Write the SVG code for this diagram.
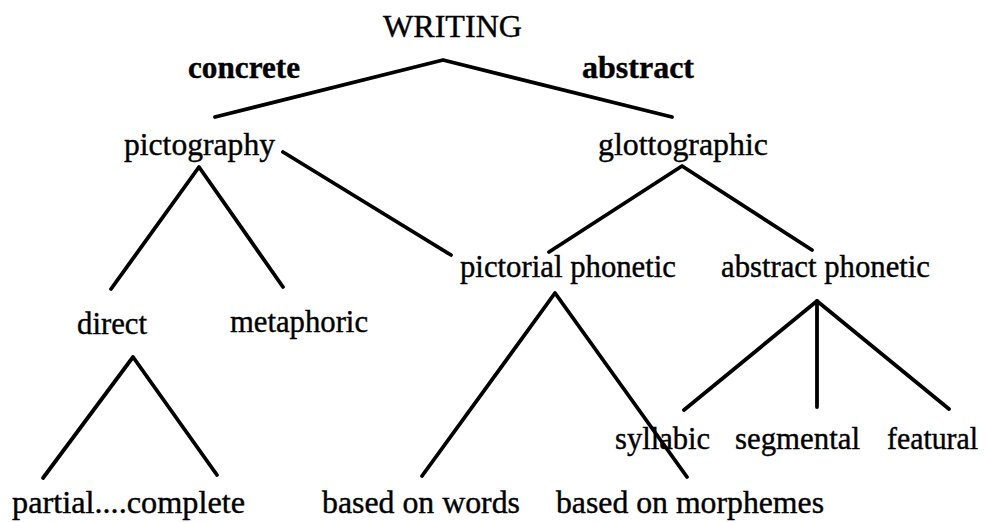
<svg xmlns="http://www.w3.org/2000/svg" width="985" height="522" viewBox="0 0 985 522">
  <style>
    .lbl { font-family: "Liberation Serif", "Times New Roman", serif; font-size: 32px; fill: #000; stroke: #000; stroke-width: 0.4; }
    .bold { font-weight: bold; }
    .edge { stroke: #000; stroke-width: 3.8; stroke-linecap: round; stroke-linejoin: round; fill: none; }
  </style>
  <rect width="985" height="522" fill="#fff"/>

  <!-- tree branches -->
  <g id="connectors">
    <polyline class="edge" points="215,117 443,60 672,117"/>
    <polyline class="edge" points="111,289 199,167 283,287"/>
    <line class="edge" x1="283" y1="152" x2="451" y2="255"/>
    <polyline class="edge" points="549,252 682,166 812,250"/>
    <polyline class="edge" points="43,478 133,357 217,475"/>
    <polyline class="edge" points="422,476 555,293 687,477"/>
    <polyline class="edge" points="684,410 817,301 949,409"/>
    <line class="edge" x1="817" y1="301" x2="817" y2="407"/>
  </g>

  <!-- nodes -->
  <g id="writing"><text class="lbl" x="383" y="37" textLength="139" lengthAdjust="spacingAndGlyphs">WRITING</text></g>
  <g id="concrete"><text class="lbl bold" x="188" y="78" textLength="112" lengthAdjust="spacingAndGlyphs">concrete</text></g>
  <g id="abstract"><text class="lbl bold" x="582" y="78" textLength="112" lengthAdjust="spacingAndGlyphs">abstract</text></g>
  <g id="pictography"><text class="lbl" x="124" y="155" textLength="151" lengthAdjust="spacingAndGlyphs">pictography</text></g>
  <g id="glottographic"><text class="lbl" x="598" y="155" textLength="170" lengthAdjust="spacingAndGlyphs">glottographic</text></g>
  <g id="pictorial-phonetic"><text class="lbl" x="460" y="277" textLength="216" lengthAdjust="spacingAndGlyphs">pictorial phonetic</text></g>
  <g id="abstract-phonetic"><text class="lbl" x="721" y="277" textLength="209" lengthAdjust="spacingAndGlyphs">abstract phonetic</text></g>
  <g id="direct"><text class="lbl" x="77" y="334" textLength="70" lengthAdjust="spacingAndGlyphs">direct</text></g>
  <g id="metaphoric"><text class="lbl" x="230" y="332" textLength="138" lengthAdjust="spacingAndGlyphs">metaphoric</text></g>
  <g id="syllabic"><text class="lbl" x="615" y="449" textLength="95" lengthAdjust="spacingAndGlyphs">syllabic</text></g>
  <g id="segmental"><text class="lbl" x="735" y="449" textLength="125" lengthAdjust="spacingAndGlyphs">segmental</text></g>
  <g id="featural"><text class="lbl" x="887" y="449" textLength="91" lengthAdjust="spacingAndGlyphs">featural</text></g>
  <g id="partial-complete"><text class="lbl" x="12" y="513" textLength="233" lengthAdjust="spacingAndGlyphs">partial....complete</text></g>
  <g id="based-on-words"><text class="lbl" x="322" y="513" textLength="198" lengthAdjust="spacingAndGlyphs">based on words</text></g>
  <g id="based-on-morphemes"><text class="lbl" x="556" y="513" textLength="268" lengthAdjust="spacingAndGlyphs">based on morphemes</text></g>
</svg>
